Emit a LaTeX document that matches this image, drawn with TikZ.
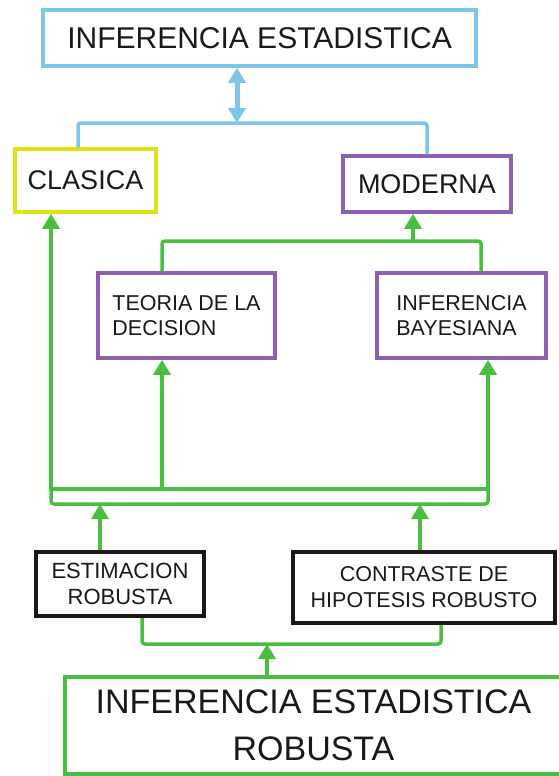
\documentclass[tikz,border=0pt]{standalone}
\usepackage{fontspec}
\setmainfont{Liberation Sans}
\usetikzlibrary{arrows.meta}
\definecolor{skyc}{RGB}{125,197,235}
\definecolor{yellowc}{RGB}{222,228,20}
\definecolor{purplec}{RGB}{140,95,175}
\definecolor{greenc}{RGB}{75,190,65}
\definecolor{inkc}{RGB}{25,25,25}

\begin{document}
\begin{tikzpicture}[x=1pt, y=-1pt,
    box/.style={draw, line width=3.5pt, inner sep=0pt, text=inkc, align=center},
    gline/.style={draw=greenc, line width=3.5pt, rounded corners=3pt},
    garrow/.style={gline, -{Triangle[width=17pt,length=15pt]}}]
    \useasboundingbox (0,0) rectangle (558,776);

    % Boxes
    \node[box, draw=skyc, minimum width=433pt, minimum height=56pt, font=\fontsize{30}{36}\selectfont] (top) at (259.5,38) {INFERENCIA ESTADISTICA};
    \node[box, draw=yellowc, minimum width=141pt, minimum height=63pt, font=\fontsize{27}{32}\selectfont] (clasica) at (85.5,180.5) {CLASICA};
    \node[box, draw=purplec, minimum width=168pt, minimum height=56pt, font=\fontsize{27}{32}\selectfont] (moderna) at (427,184) {MODERNA};
    \node[box, draw=purplec, align=left, minimum width=177pt, minimum height=85pt, font=\fontsize{21.5}{25}\selectfont] (teoria) at (186.5,315.5) {TEORIA DE LA\\DECISION};
    \node[box, draw=purplec, align=left, minimum width=169pt, minimum height=85pt, font=\fontsize{21.5}{25}\selectfont] (bayes) at (461.5,315.5) {INFERENCIA\\BAYESIANA};
    \node[box, draw=inkc, line width=4pt, minimum width=168pt, minimum height=64pt, font=\fontsize{22}{26}\selectfont] (estim) at (120,584) {ESTIMACION\\ROBUSTA};
    \node[box, draw=inkc, line width=4pt, minimum width=262pt, minimum height=71pt, font=\fontsize{21.5}{26}\selectfont] (contraste) at (424,587.5) {CONTRASTE DE\\HIPOTESIS ROBUSTO};
    \node[box, draw=greenc, minimum width=497pt, minimum height=97pt, font=\fontsize{34}{47}\selectfont] (robusta) at (313.5,725.5) {INFERENCIA ESTADISTICA\\ROBUSTA};

    % Junctions
    \coordinate (hub) at (237,123);
    \coordinate (mhub) at (413,241);
    \coordinate (busT) at (51,489);
    \coordinate (busR) at (488,504);
    \coordinate (tx) at (162,489);
    \coordinate (ex) at (100,504);
    \coordinate (cx) at (420,504);
    \coordinate (rhub) at (267,644);

    % Clasica / moderna
    \draw[skyc, line width=3.5pt, rounded corners=3pt] ([xshift=-7.5pt]clasica.north) |- (hub) -| (moderna.north);
    \draw[skyc, line width=5pt, {Triangle[width=17pt,length=15pt]}-{Triangle[width=17pt,length=15pt]}] (top.south -| hub) -- (hub);

    % Up to moderna
    \draw[gline] (tx |- teoria.north) |- (mhub) -| ([xshift=19.5pt]bayes.north);
    \draw[garrow] (mhub) -- (mhub |- moderna.south);

    % Double bus
    \draw[gline] (busT) |- (busR) -- (busT -| busR);
    \draw[gline] (busT) -- (busT -| busR);
    \draw[garrow] (busT) -- (busT |- clasica.south);
    \draw[garrow] (tx) -- (tx |- teoria.south);
    \draw[garrow] (busT -| busR) -- (busR |- bayes.south);

    % Robust methods
    \draw[garrow] (ex |- estim.north) -- (ex);
    \draw[garrow] (cx |- contraste.north) -- (cx);
    \draw[gline] ([xshift=22pt]estim.south) |- (rhub) -| ([xshift=17pt]contraste.south);
    \draw[garrow] (robusta.north -| rhub) -- (rhub);
\end{tikzpicture}
\end{document}
